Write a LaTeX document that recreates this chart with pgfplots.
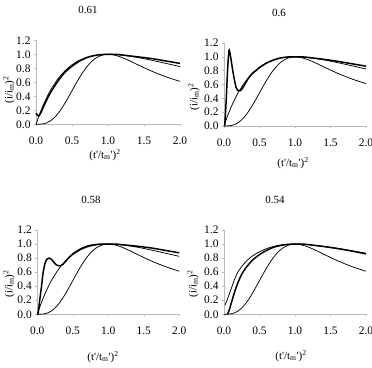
\documentclass[border=0pt]{standalone}
\usepackage{fontspec}
\setmainfont{Liberation Serif}
\usepackage{pgfplots}
\pgfplotsset{compat=1.18}
\usepackage{pgfplotstable}

\pgfplotstableread{
x y
0 0
0.05 0.145
0.1 0.272
0.15 0.384
0.2 0.483
0.3 0.642
0.4 0.762
0.5 0.850
0.6 0.913
0.7 0.955
0.8 0.982
0.9 0.996
1.0 1.000
1.1 0.997
1.2 0.987
1.4 0.957
1.6 0.916
1.8 0.871
2.0 0.825
}\inst

\pgfplotstableread{
x y
0 0
0.05 0.001
0.1 0.007
0.15 0.021
0.2 0.049
0.25 0.091
0.3 0.147
0.35 0.217
0.4 0.298
0.45 0.387
0.5 0.480
0.55 0.572
0.6 0.661
0.65 0.742
0.7 0.814
0.75 0.874
0.8 0.922
0.85 0.958
0.9 0.982
0.95 0.996
1.0 1.000
1.1 0.986
1.2 0.952
1.3 0.907
1.4 0.857
1.6 0.762
1.8 0.680
2.0 0.613
}\prog

\pgfplotstableread{
x y
0.0 0.16
0.02 0.13
0.04 0.12
0.07 0.17
0.1 0.24
0.15 0.35
0.2 0.45
0.3 0.61
0.4 0.74
0.5 0.83
0.6 0.90
0.7 0.95
0.8 0.98
0.9 0.995
1.0 1.0
1.1 1.0
1.2 0.99
1.4 0.965
1.6 0.94
1.8 0.905
2.0 0.87
}\expA

\pgfplotstableread{
x y
0.01 0.0
0.03 0.35
0.05 0.80
0.07 1.09
0.09 1.02
0.13 0.76
0.17 0.56
0.2 0.51
0.23 0.51
0.27 0.56
0.32 0.65
0.38 0.74
0.45 0.80
0.5 0.845
0.6 0.91
0.7 0.955
0.8 0.985
0.9 0.998
1.0 1.0
1.1 1.0
1.2 0.99
1.4 0.965
1.6 0.935
1.8 0.90
2.0 0.865
}\expB

\pgfplotstableread{
x y
0.01 0.0
0.04 0.25
0.06 0.40
0.08 0.58
0.11 0.73
0.14 0.79
0.17 0.80
0.21 0.77
0.26 0.71
0.31 0.69
0.36 0.71
0.42 0.78
0.5 0.86
0.6 0.925
0.7 0.97
0.8 0.99
0.9 1.0
1.0 1.0
1.1 1.0
1.2 0.99
1.4 0.97
1.6 0.945
1.8 0.91
2.0 0.875
}\expC

\pgfplotstableread{
x y
0.015 0.13
0.05 0.22
0.1 0.36
0.15 0.50
0.2 0.61
0.3 0.74
0.4 0.83
0.5 0.89
0.6 0.935
0.7 0.967
0.8 0.987
0.9 0.997
1.0 1.0
1.1 0.998
1.2 0.99
1.4 0.968
1.6 0.94
1.8 0.905
2.0 0.87
}\expDa

\pgfplotstableread{
x y
0.05 0.0
0.08 0.08
0.1 0.15
0.15 0.32
0.2 0.46
0.25 0.57
0.3 0.65
0.4 0.77
0.5 0.85
0.6 0.91
0.7 0.955
0.8 0.98
0.9 0.995
1.0 1.0
1.1 1.0
1.2 0.99
1.4 0.965
1.6 0.935
1.8 0.90
2.0 0.86
}\expDb

\pgfplotsset{
  myax/.style={
    scale only axis, width=142bp, height=84bp,
    xmin=0, xmax=2, ymin=0, ymax=1.2,
    axis x line*=bottom, axis y line*=left,
    axis line style={-, gray!55, line width=0.6pt},
    xtick={0,0.5,1,1.5,2}, ytick={0,0.2,0.4,0.6,0.8,1,1.2},
    tick align=outside, major tick length=2pt,
    tick style={gray!55, line width=0.5pt},
    /pgf/number format/assume math mode=true,
    /pgf/number format/fixed,
    /pgf/number format/fixed zerofill,
    /pgf/number format/precision=1,
    tick label style={font=\fontsize{11.5}{12}\selectfont, text=black},
    x tick label style={yshift=-7pt},
    clip=false,
  },
  thinl/.style={black, line width=0.75pt, smooth, tension=0.5, no marks},
  thickl/.style={black, line width=1.5pt, smooth, tension=0.5, no marks},
}

\newcommand{\ylab}{(i/i\textsubscript{m})\textsuperscript{2}}
\newcommand{\xlab}{(t\textquotesingle/t\textsubscript{m}\textquotesingle)\textsuperscript{2}}

\begin{document}
\begin{tikzpicture}
\path[use as bounding box] (0,0) rectangle (372bp,368bp);
\tikzset{lab/.style={font=\fontsize{11}{12}\selectfont, inner sep=0pt}}

% plot 1
\begin{axis}[myax, width=144bp, at={(36bp,243.7bp)}, anchor=south west]
\addplot[thinl] table {\prog};
\addplot[thinl] table {\inst};
\addplot[thickl] table {\expA};
\end{axis}
% plot 2
\begin{axis}[myax, height=83bp, at={(224bp,242bp)}, anchor=south west]
\addplot[thinl] table {\prog};
\addplot[thinl] table {\inst};
\addplot[thickl] table {\expB};
\end{axis}
% plot 3
\begin{axis}[myax, height=84.3bp, at={(37.3bp,53.7bp)}, anchor=south west]
\addplot[thinl] table {\prog};
\addplot[thinl] table {\inst};
\addplot[thickl] table {\expC};
\end{axis}
% plot 4
\begin{axis}[myax, height=84.3bp, at={(224bp,53.7bp)}, anchor=south west]
\addplot[thinl] table {\prog};
\addplot[thinl] table {\expDa};
\addplot[thickl] table {\expDb};
\end{axis}

\node[lab] at (88bp,358bp) {0.61};
\node[lab] at (279bp,355bp) {0.6};
\node[lab] at (91bp,168bp) {0.58};
\node[lab] at (275bp,168bp) {0.54};

\node[lab] at (105bp,213bp) {\xlab};
\node[lab] at (293bp,205bp) {\xlab};
\node[lab] at (103bp,11bp) {\xlab};
\node[lab] at (291bp,12bp) {\xlab};

\node[lab, rotate=90] at (9bp,278bp) {\ylab};
\node[lab, rotate=90] at (194bp,271bp) {\ylab};
\node[lab, rotate=90] at (9bp,84bp) {\ylab};
\node[lab, rotate=90] at (193bp,84bp) {\ylab};
\end{tikzpicture}
\end{document}
